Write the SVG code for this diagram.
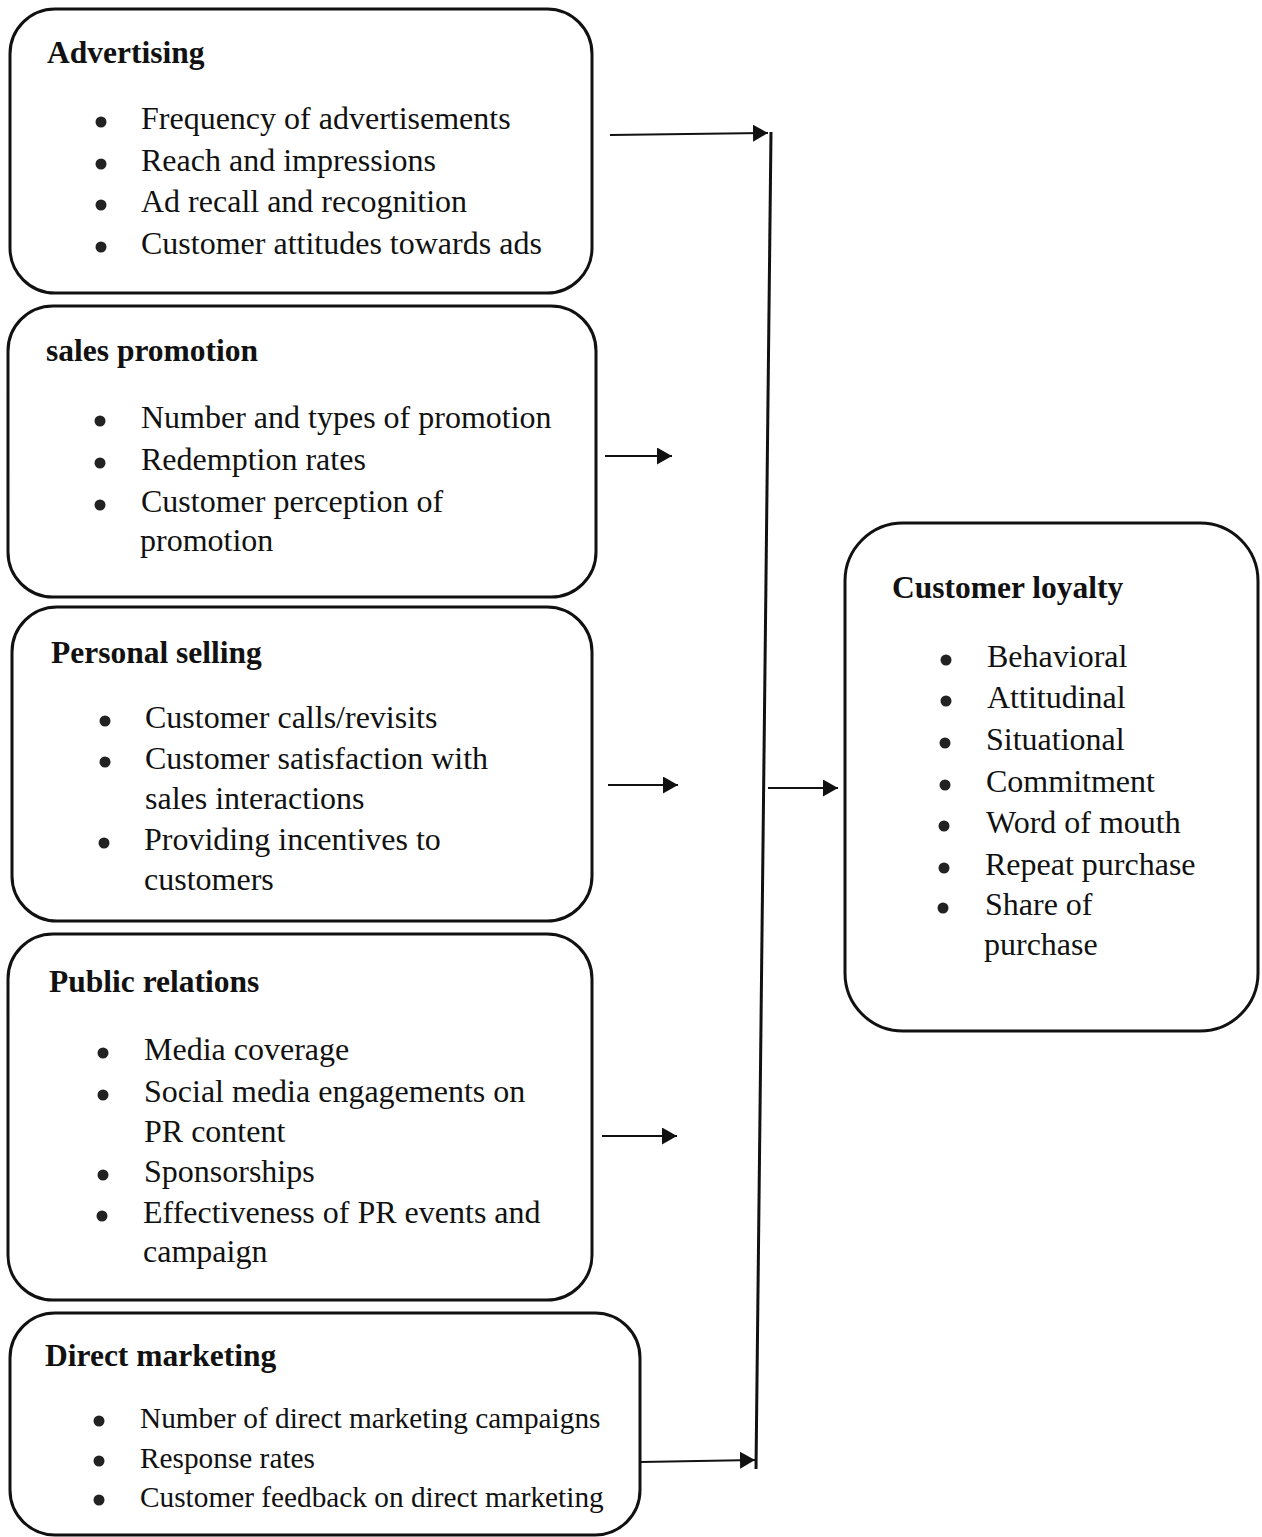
<svg xmlns="http://www.w3.org/2000/svg" width="1262" height="1537" viewBox="0 0 1262 1537">
<defs>
<style>
.box{fill:#fff;stroke:#111;stroke-width:3}
.t{font-family:"Liberation Serif","Times New Roman",serif;font-weight:bold;font-size:31.5px;fill:#111}
.b{font-family:"Liberation Serif","Times New Roman",serif;font-size:32px;fill:#111}
.s{font-size:29.3px}
.dot{fill:#222}
.c{fill:none;stroke:#111;stroke-width:2}
.v{fill:none;stroke:#111;stroke-width:3}
</style>
<marker id="ah" markerUnits="userSpaceOnUse" markerWidth="16" markerHeight="18" refX="15" refY="8.5" orient="auto">
<path d="M0,0 L15,8.5 L0,17 Z" fill="#111"/>
</marker>
</defs>
<rect width="1262" height="1537" fill="#fff"/>

<g id="advertising">
<rect class="box" x="10" y="9" width="582" height="284" rx="45" ry="45"/>
<text class="t" x="47" y="63">Advertising</text>
<circle class="dot" cx="101" cy="122" r="5.5"/><text class="b" x="141" y="129">Frequency of advertisements</text>
<circle class="dot" cx="101" cy="164" r="5.5"/><text class="b" x="141" y="171">Reach and impressions</text>
<circle class="dot" cx="101" cy="205" r="5.5"/><text class="b" x="141" y="212">Ad recall and recognition</text>
<circle class="dot" cx="101" cy="247" r="5.5"/><text class="b" x="141" y="254">Customer attitudes towards ads</text>
</g>

<g id="sales-promotion">
<rect class="box" x="8" y="306" width="588" height="291" rx="45" ry="45"/>
<text class="t" x="46" y="361">sales promotion</text>
<circle class="dot" cx="100" cy="421" r="5.5"/><text class="b" x="141" y="428">Number and types of promotion</text>
<circle class="dot" cx="100" cy="463" r="5.5"/><text class="b" x="141" y="470">Redemption rates</text>
<circle class="dot" cx="100" cy="505" r="5.5"/><text class="b" x="141" y="512">Customer perception of</text>
<text class="b" x="140" y="551">promotion</text>
</g>

<g id="personal-selling">
<rect class="box" x="12" y="607" width="580" height="314" rx="45" ry="45"/>
<text class="t" x="51" y="663">Personal selling</text>
<circle class="dot" cx="105" cy="721" r="5.5"/><text class="b" x="145" y="728">Customer calls/revisits</text>
<circle class="dot" cx="105" cy="762" r="5.5"/><text class="b" x="145" y="769">Customer satisfaction with</text>
<text class="b" x="145" y="809">sales interactions</text>
<circle class="dot" cx="104" cy="843" r="5.5"/><text class="b" x="144" y="850">Providing incentives to</text>
<text class="b" x="144" y="890">customers</text>
</g>

<g id="public-relations">
<rect class="box" x="8" y="934" width="584" height="366" rx="45" ry="45"/>
<text class="t" x="49" y="992">Public relations</text>
<circle class="dot" cx="103" cy="1053" r="5.5"/><text class="b" x="144" y="1060">Media coverage</text>
<circle class="dot" cx="103" cy="1095" r="5.5"/><text class="b" x="144" y="1102">Social media engagements on</text>
<text class="b" x="144" y="1142">PR content</text>
<circle class="dot" cx="103" cy="1175" r="5.5"/><text class="b" x="144" y="1182">Sponsorships</text>
<circle class="dot" cx="102" cy="1216" r="5.5"/><text class="b" x="143" y="1223">Effectiveness of PR events and</text>
<text class="b" x="143" y="1262">campaign</text>
</g>

<g id="direct-marketing">
<rect class="box" x="10" y="1313" width="630" height="222" rx="45" ry="45"/>
<text class="t" x="45" y="1366">Direct marketing</text>
<circle class="dot" cx="99" cy="1421" r="5.5"/><text class="b s" x="140" y="1428">Number of direct marketing campaigns</text>
<circle class="dot" cx="99" cy="1461" r="5.5"/><text class="b s" x="140" y="1468">Response rates</text>
<circle class="dot" cx="99" cy="1500" r="5.5"/><text class="b s" x="140" y="1507">Customer feedback on direct marketing</text>
</g>

<g id="customer-loyalty">
<rect class="box" x="845" y="523" width="413" height="508" rx="58" ry="58"/>
<text class="t" x="892" y="598">Customer loyalty</text>
<circle class="dot" cx="946" cy="660" r="5.5"/><text class="b" x="987" y="667">Behavioral</text>
<circle class="dot" cx="946" cy="701" r="5.5"/><text class="b" x="987" y="708">Attitudinal</text>
<circle class="dot" cx="945" cy="743" r="5.5"/><text class="b" x="986" y="750">Situational</text>
<circle class="dot" cx="945" cy="785" r="5.5"/><text class="b" x="986" y="792">Commitment</text>
<circle class="dot" cx="944" cy="826" r="5.5"/><text class="b" x="986" y="833">Word of mouth</text>
<circle class="dot" cx="944" cy="868" r="5.5"/><text class="b" x="985" y="875">Repeat purchase</text>
<circle class="dot" cx="943" cy="908" r="5.5"/><text class="b" x="985" y="915">Share of</text>
<text class="b" x="984" y="955">purchase</text>
</g>

<g id="connectors">
<path class="v" d="M771,132 L756,1469"/>
<path class="c" d="M610,135 L768,133" marker-end="url(#ah)"/>
<path class="c" d="M605,456 L672,456" marker-end="url(#ah)"/>
<path class="c" d="M608,785 L678,785" marker-end="url(#ah)"/>
<path class="c" d="M602,1136 L677,1136" marker-end="url(#ah)"/>
<path class="c" d="M641,1462 L755,1460" marker-end="url(#ah)"/>
<path class="c" d="M768,788 L838,788" marker-end="url(#ah)"/>
</g>
</svg>
